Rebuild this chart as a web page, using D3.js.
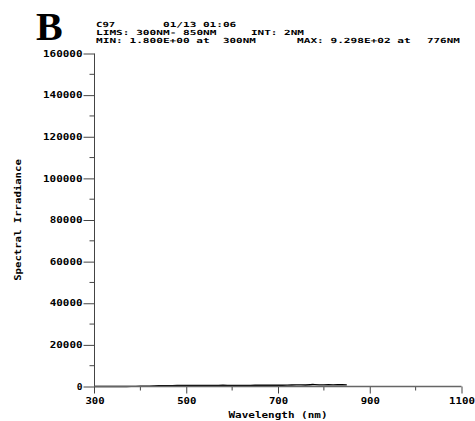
<!DOCTYPE html>
<html>
<head>
<meta charset="utf-8">
<script src="https://cdn.jsdelivr.net/npm/d3@7/dist/d3.min.js"></script>
<style>
  html, body { margin: 0; padding: 0; background: #fff; }
  svg { display: block; }
  .mono { font-family: "DejaVu Sans Mono", "DejaVu Sans", monospace; font-weight: bold; fill: #000; }
</style>
</head>
<body>
<svg id="chart" width="475" height="421"></svg>
<script>
// Spectral irradiance scan, 300–850 nm
const wavelengths = [300, 310, 320, 330, 340, 350, 360, 370, 380, 390,
                     400, 410, 420, 430, 440, 450, 460, 470, 480, 490,
                     500, 510, 520, 530, 540, 550, 560, 570, 580, 590,
                     600, 610, 620, 630, 640, 650, 660, 670, 680, 690,
                     700, 710, 720, 730, 740, 750, 760, 770, 776, 780,
                     790, 800, 810, 820, 830, 840, 850];
const irradiance = [1.8, 3, 5, 8, 12, 18, 25, 35, 50, 70,
                    95, 130, 190, 260, 330, 390, 420, 430, 445, 450,
                    460, 470, 480, 490, 500, 510, 525, 560, 640, 560,
                    540, 545, 550, 555, 560, 570, 575, 580, 590, 600,
                    610, 630, 660, 700, 760, 780, 720, 860, 929.8, 880,
                    760, 800, 830, 780, 850, 820, 800];

const xMajorTicks = [300, 500, 700, 900, 1100];
const xMinorTicks = [400, 600, 800, 1000];
const yMajorTicks = [0, 20000, 40000, 60000, 80000, 100000, 120000, 140000, 160000];
const yMinorTicks = [10000, 30000, 50000, 70000, 90000, 110000, 130000, 150000];

const headerLines = [
  [["C97", 96, 26.5], ["01/13 01:06", 163, 26.5]],
  [["LIMS: 300NM- 850NM", 96, 34.8], ["INT: 2NM", 251, 34.8]],
  [["MIN: 1.800E+00 at", 96, 43], ["300NM", 223, 43], ["MAX: 9.298E+02 at", 297, 43], ["776NM", 427, 43]]
];

const charW = 6.75;
const svg = d3.select("#chart");

const x = d3.scaleLinear().domain([300, 1100]).range([94.5, 461.5]);
const y = d3.scaleLinear().domain([0, 160000]).range([386.5, 53.5]);

// panel letter
svg.append("text")
  .attr("x", 36).attr("y", 40)
  .style("font-family", "'Liberation Serif', 'Times New Roman', serif")
  .style("font-weight", "bold")
  .style("font-size", "40px")
  .text("B");

// instrument header
headerLines.flat().forEach(([t, tx, ty]) => {
  svg.append("text").attr("class", "mono")
    .attr("x", tx).attr("y", ty)
    .style("font-size", "7px")
    .attr("textLength", t.length * charW - 1)
    .attr("lengthAdjust", "spacingAndGlyphs")
    .text(t);
});

// spectrum line (drawn under the axes)
const line = d3.line().x((d, i) => x(wavelengths[i])).y(d => y(d));
svg.append("path")
  .datum(irradiance)
  .attr("fill", "none")
  .attr("stroke", "#000")
  .attr("stroke-width", 1.4)
  .attr("d", line);

const axisColor = "#444";

// x axis: major ticks with labels, minor ticks short
const xAxis = svg.append("g").attr("transform", `translate(0,${y(0)})`);
xAxis.call(d3.axisBottom(x).tickValues(xMajorTicks).tickSize(7).tickPadding(4).tickFormat(d3.format("d")));
xAxis.selectAll(".tick").filter(d => d === 300).select("line").remove();
xAxis.append("g").selectAll("line").data(xMinorTicks).join("line")
  .attr("x1", d => x(d)).attr("x2", d => x(d)).attr("y1", 0).attr("y2", 4)
  .attr("stroke", axisColor);

// y axis
const yAxis = svg.append("g").attr("transform", `translate(${x(300)},0)`);
yAxis.call(d3.axisLeft(y).tickValues(yMajorTicks).tickSize(11).tickPadding(1).tickFormat(d3.format("d")));
yAxis.append("g").selectAll("line").data(yMinorTicks).join("line")
  .attr("x1", 0).attr("x2", -5).attr("y1", d => y(d)).attr("y2", d => y(d))
  .attr("stroke", axisColor);

[xAxis, yAxis].forEach(g => {
  g.select(".domain").remove();
  g.selectAll(".tick line").attr("stroke", axisColor);
  g.selectAll(".tick text")
    .attr("class", "mono")
    .style("font-size", "8.5px")
    .attr("fill", "#000")
    .each(function () {
      const n = this.textContent.length;
      d3.select(this).attr("textLength", n * charW - 1).attr("lengthAdjust", "spacingAndGlyphs");
    });
});

// axis lines, drawn over the low end of the spectrum
svg.append("line")
  .attr("x1", x(300)).attr("x2", x(300)).attr("y1", y(160000)).attr("y2", y(0) + 7)
  .attr("stroke", axisColor);
svg.append("line")
  .attr("x1", x(300)).attr("x2", x(1100)).attr("y1", y(0)).attr("y2", y(0))
  .attr("stroke", "#666").attr("stroke-width", 1.6);

// axis titles
const xTitle = "Wavelength (nm)";
svg.append("text").attr("class", "mono")
  .attr("x", x(700)).attr("y", 418)
  .attr("text-anchor", "middle")
  .style("font-size", "8.5px")
  .attr("textLength", xTitle.length * 6.6)
  .attr("lengthAdjust", "spacingAndGlyphs")
  .text(xTitle);

const yTitle = "Spectral Irradiance";
svg.append("text").attr("class", "mono")
  .attr("transform", `translate(21,${y(80000)}) rotate(-90)`)
  .attr("text-anchor", "middle")
  .style("font-size", "8.5px")
  .attr("textLength", yTitle.length * 6.4)
  .attr("lengthAdjust", "spacingAndGlyphs")
  .text(yTitle);
</script>
</body>
</html>
